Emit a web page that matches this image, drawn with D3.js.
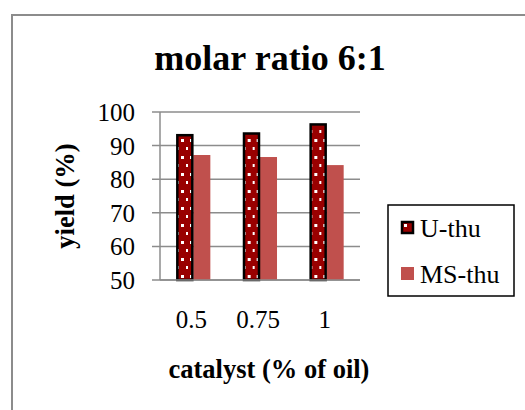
<!DOCTYPE html>
<html>
<head>
<meta charset="utf-8">
<script src="https://cdn.jsdelivr.net/npm/d3@7"></script>
<style>
  body { margin: 0; background: #fff; }
  svg text { font-family: "Liberation Serif", "Times New Roman", serif; }
</style>
</head>
<body>
<svg id="chart" width="525" height="410"></svg>
<script>
// data
const categories = ['0.5', '0.75', '1'];
const series = ['U-thu', 'MS-thu'];
const uThu = [93.1, 93.6, 96.3];
const msThu = [87.2, 86.6, 84.2];
const yTicks = [50, 60, 70, 80, 90, 100];

const colors = { 'U-thu': '#990000', 'MS-thu': '#c0504d' };

const plot = { left: 160, right: 360, top: 112, bottom: 280 };
const serif = 'Liberation Serif';

const svg = d3.select('#chart');

// text helper so every label gets the serif face
const addText = (sel, size, bold) => sel
    .style('font-family', serif)
    .attr('font-family', serif)
    .attr('font-size', size)
    .attr('font-weight', bold ? 'bold' : 'normal');

// dotted fill for U-thu
const defs = svg.append('defs');
const pat = defs.append('pattern')
    .attr('id', 'dots')
    .attr('patternUnits', 'userSpaceOnUse')
    .attr('width', 9)
    .attr('height', 17);
pat.append('rect').attr('width', 9).attr('height', 17).attr('fill', colors['U-thu']);
pat.append('rect').attr('x', 3).attr('y', 3).attr('width', 3).attr('height', 3).attr('fill', '#fff');
pat.append('rect').attr('x', -1).attr('y', 11).attr('width', 2).attr('height', 3).attr('fill', '#fff');
pat.append('rect').attr('x', 8).attr('y', 11).attr('width', 2).attr('height', 3).attr('fill', '#fff');

// outer frame
svg.append('rect')
    .attr('x', 12).attr('y', 15)
    .attr('width', 540).attr('height', 420)
    .attr('fill', 'none')
    .attr('stroke', '#8c8c8c')
    .attr('stroke-width', 2);

// scales
const x0 = d3.scaleBand()
    .domain(categories)
    .range([plot.left, plot.right])
    .padding(0);

const x1 = d3.scaleBand()
    .domain(series)
    .range([0, x0.bandwidth()])
    .paddingInner(0)
    .paddingOuter(0.96);

const y = d3.scaleLinear()
    .domain([50, 100])
    .range([plot.bottom, plot.top]);

// gridlines
svg.append('g')
    .selectAll('line')
    .data(yTicks)
    .join('line')
    .attr('x1', plot.left - 8)
    .attr('x2', plot.right)
    .attr('y1', d => y(d))
    .attr('y2', d => y(d))
    .attr('stroke', '#8c8c8c')
    .attr('stroke-width', 1.5);

// y axis line
svg.append('line')
    .attr('x1', plot.left).attr('x2', plot.left)
    .attr('y1', y(100)).attr('y2', y(50))
    .attr('stroke', '#8c8c8c')
    .attr('stroke-width', 1.5);

// y tick labels
svg.append('g')
    .selectAll('text')
    .data(yTicks)
    .join('text')
    .attr('x', plot.left - 25)
    .attr('y', d => y(d))
    .attr('dy', '0.36em')
    .attr('text-anchor', 'end')
    .call(addText, 25, false)
    .text(d => d);

// x tick labels
svg.append('g')
    .selectAll('text')
    .data(categories)
    .join('text')
    .attr('x', d => x0(d) + x0.bandwidth() / 2 - 2)
    .attr('y', 328)
    .attr('text-anchor', 'middle')
    .call(addText, 25, false)
    .text(d => d);

// bars
const rows = categories.map((c, i) => ({ cat: c, values: [uThu[i], msThu[i]] }));

const groups = svg.append('g')
    .selectAll('g')
    .data(rows)
    .join('g')
    .attr('transform', d => `translate(${x0(d.cat)},0)`);

// MS-thu first so the U-thu border sits on top
groups.append('rect')
    .attr('x', x1('MS-thu'))
    .attr('width', x1.bandwidth())
    .attr('y', d => y(d.values[1]))
    .attr('height', d => y(50) - y(d.values[1]))
    .attr('fill', colors['MS-thu']);

groups.append('rect')
    .attr('x', x1('U-thu') + 1)
    .attr('width', x1.bandwidth() - 2)
    .attr('y', d => y(d.values[0]))
    .attr('height', d => y(50) - y(d.values[0]))
    .attr('fill', 'url(#dots)')
    .attr('stroke', '#000')
    .attr('stroke-width', 2.5);

// x axis line on top
svg.append('line')
    .attr('x1', plot.left).attr('x2', plot.right)
    .attr('y1', y(50)).attr('y2', y(50))
    .attr('stroke', '#8c8c8c')
    .attr('stroke-width', 1.5);

// title
svg.append('text')
    .attr('x', 270)
    .attr('y', 70)
    .attr('text-anchor', 'middle')
    .call(addText, 36, true)
    .text('molar ratio 6:1');

// axis titles
svg.append('text')
    .attr('x', 269)
    .attr('y', 378)
    .attr('text-anchor', 'middle')
    .call(addText, 26.5, true)
    .text('catalyst (% of oil)');

svg.append('text')
    .attr('transform', 'translate(74,196) rotate(-90)')
    .attr('text-anchor', 'middle')
    .call(addText, 26.5, true)
    .text('yield (%)');

// legend
const legend = svg.append('g');
legend.append('rect')
    .attr('x', 388).attr('y', 205)
    .attr('width', 126).attr('height', 91)
    .attr('fill', '#fff')
    .attr('stroke', '#000')
    .attr('stroke-width', 1.5);

const items = legend.selectAll('g')
    .data(series)
    .join('g')
    .attr('transform', (d, i) => `translate(401,${221 + i * 46})`);

items.append('rect')
    .attr('x', d => d === 'U-thu' ? 1 : 0)
    .attr('y', d => d === 'U-thu' ? 1 : 0)
    .attr('width', d => d === 'U-thu' ? 11 : 13)
    .attr('height', d => d === 'U-thu' ? 11 : 13)
    .attr('fill', d => d === 'U-thu' ? 'url(#dots)' : colors[d])
    .attr('stroke', d => d === 'U-thu' ? '#000' : 'none')
    .attr('stroke-width', 2.5);

items.append('text')
    .attr('x', 19)
    .attr('y', 15.5)
    .call(addText, 26, false)
    .text(d => d);
</script>
</body>
</html>
